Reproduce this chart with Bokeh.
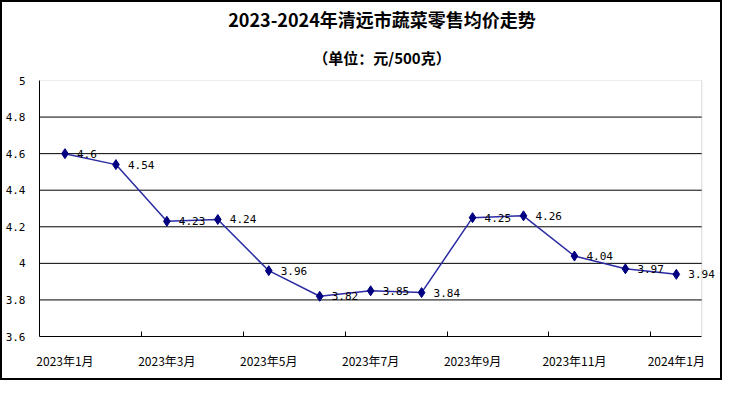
from bokeh.plotting import figure
from bokeh.models import (Range1d, FixedTicker, Title, ColumnDataSource, LabelSet,
                          BoxAnnotation)
from bokeh.core.properties import value
from bokeh.embed import file_html
from bokeh.resources import INLINE

# ---- data ----
months = ["2023年1月", "2023年2月", "2023年3月", "2023年4月", "2023年5月", "2023年6月",
          "2023年7月", "2023年8月", "2023年9月", "2023年10月", "2023年11月", "2023年12月",
          "2024年1月"]
prices = [4.6, 4.54, 4.23, 4.24, 3.96, 3.82, 3.85, 3.84, 4.25, 4.26, 4.04, 3.97, 3.94]
y_ticks = [3.6, 3.8, 4.0, 4.2, 4.4, 4.6, 4.8, 5.0]
y_tick_labels = ["3.6", "3.8", "4", "4.2", "4.4", "4.6", "4.8", "5"]
title_text = "2023-2024年清远市蔬菜零售均价走势"
subtitle_text = "（单位：元/500克）"

n = len(months)
xs = [i + 0.5 for i in range(n)]
labels = [f"{v:g}" for v in prices]
src = ColumnDataSource(dict(x=xs, y=prices, label=labels))

W, H = 722, 380
LEFT = 28
# plot area spans 671px for n categories; frame extends further right to the canvas edge
x_end = n * (W - LEFT) / 671

p = figure(width=W, height=H, output_backend="svg", toolbar_location=None,
           x_range=Range1d(0, x_end), y_range=Range1d(y_ticks[0], y_ticks[-1]),
           min_border_left=LEFT, min_border_right=0, min_border_top=78, min_border_bottom=46)
p.styles = {"border": "2px solid black"}
p.background_fill_color = "white"
p.border_fill_color = "white"
p.outline_line_color = None

# titles (p.title is placed outermost)
p.title.text = title_text
p.title.text_font = "Noto Sans CJK SC"
p.title.text_font_size = "18px"
p.title.text_font_style = "bold"
p.title.text_color = "black"
p.title.align = "center"
p.title.offset = 17
p.title.standoff = 0
sub = Title(text=subtitle_text, text_font="Noto Sans CJK SC", text_font_size="15px",
            text_font_style="bold", text_color="black", align="center", offset=4, standoff=26)
p.add_layout(sub, "above")

# plot-area border (gray)
p.add_layout(BoxAnnotation(left=0, right=n, bottom=y_ticks[0], top=y_ticks[-1],
                           fill_color=None, line_color="#808080", line_width=1,
                           level="underlay"))

# grid lines
gy = y_ticks[1:-1]
p.segment(x0=[0] * len(gy), x1=[n] * len(gy), y0=gy, y1=gy,
          line_color="black", line_width=1, level="underlay")
p.xgrid.grid_line_color = None
p.ygrid.grid_line_color = None

# x axis
xa = p.xaxis[0]
xa.bounds = (0, n)
even_idx = list(range(0, n, 2))
xa.ticker = FixedTicker(ticks=[xs[i] for i in even_idx],
                        minor_ticks=[float(i) for i in range(2, n, 2)])
xa.major_label_overrides = {xs[i]: months[i] for i in even_idx}
xa.major_tick_line_color = None
xa.minor_tick_line_color = "black"
xa.minor_tick_in = 5
xa.minor_tick_out = 0
xa.axis_line_color = "black"
xa.major_label_text_font = "Noto Sans CJK SC"
xa.major_label_text_font_size = "12px"
xa.major_label_text_color = "black"
xa.major_label_standoff = 9

# y axis
ya = p.yaxis[0]
ya.ticker = FixedTicker(ticks=y_ticks)
ya.major_label_overrides = {t: l for t, l in zip(y_ticks, y_tick_labels)}
ya.major_tick_line_color = None
ya.minor_tick_line_color = None
ya.axis_line_color = "black"
ya.major_label_text_font = "DejaVu Sans Mono"
ya.major_label_text_font_size = "11px"
ya.major_label_text_color = "black"
ya.major_label_standoff = 8

# series
p.line("x", "y", source=src, line_color="#2b2ba3", line_width=1.5)
p.scatter("x", "y", source=src, marker="diamond", size=10,
          fill_color="#000080", line_color="#000080")
p.add_layout(LabelSet(x="x", y="y", text="label", source=src, x_offset=12,
                      text_baseline="middle", text_font=value("DejaVu Sans Mono"),
                      text_font_size="11px", text_color="black"))

open("out.html", "w").write(file_html(p, INLINE))
